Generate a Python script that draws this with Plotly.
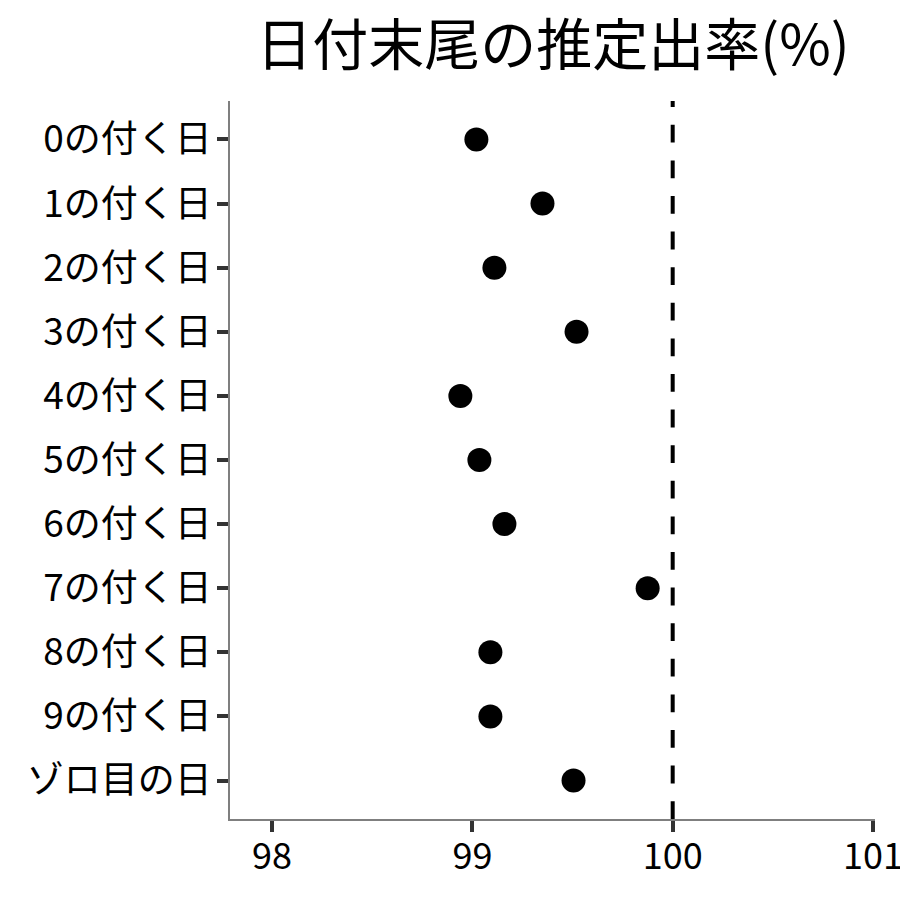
import plotly.graph_objects as go

categories = ["0の付く日", "1の付く日", "2の付く日", "3の付く日", "4の付く日",
              "5の付く日", "6の付く日", "7の付く日", "8の付く日", "9の付く日", "ゾロ目の日"]
rates = [99.02, 99.35, 99.11, 99.52, 98.94, 99.035, 99.16, 99.875, 99.09, 99.09, 99.505]
x_ticks = [98, 99, 100, 101]
ref_value = 100
title_text = "日付末尾の推定出率(%)"

FONT = "Noto Sans CJK JP"

fig = go.Figure()
fig.add_trace(go.Scatter(
    x=rates, y=categories, mode="markers",
    marker=dict(color="black", size=24, line=dict(width=0)),
    showlegend=False,
))
fig.add_shape(type="line", x0=ref_value, x1=ref_value, y0=0, y1=1,
              xref="x", yref="paper",
              line=dict(color="black", width=4, dash="17.8px,17.8px"))

fig.update_layout(
    width=900, height=900,
    margin=dict(l=230, r=25, t=101, b=81, autoexpand=False),
    paper_bgcolor="white", plot_bgcolor="white",
    font=dict(family=FONT, color="black"),
    title=dict(text=title_text, x=553 / 900, xanchor="center", y=1 - 45 / 900, yanchor="middle",
               yref="container", font=dict(size=56, family=FONT, color="black")),
)
fig.update_xaxes(
    range=[97.79, 101.01], tickvals=x_ticks, ticktext=[str(v) for v in x_ticks],
    showgrid=False, zeroline=False, showline=True, linecolor="#7f7f7f", linewidth=1.5,
    ticks="outside", ticklen=11, tickwidth=4, tickcolor="#333333",
    tickfont=dict(size=36, family=FONT, color="black"),
    ticklabeloverflow="allow", ticklabelstandoff=-6, automargin=False,
)
fig.update_yaxes(
    categoryorder="array", categoryarray=categories[::-1],
    range=[-0.6, len(categories) - 0.4],
    showgrid=False, zeroline=False, showline=True, linecolor="#7f7f7f", linewidth=1.5,
    ticks="outside", ticklen=11, tickwidth=4, tickcolor="#333333",
    tickfont=dict(size=37, family=FONT, color="black"),
    ticklabelstandoff=-2, automargin=False,
)

fig.write_html(
    "out.html",
    config={"displayModeBar": False},
    post_script="document.body.style.margin='0px';document.body.style.overflow='hidden';",
)
